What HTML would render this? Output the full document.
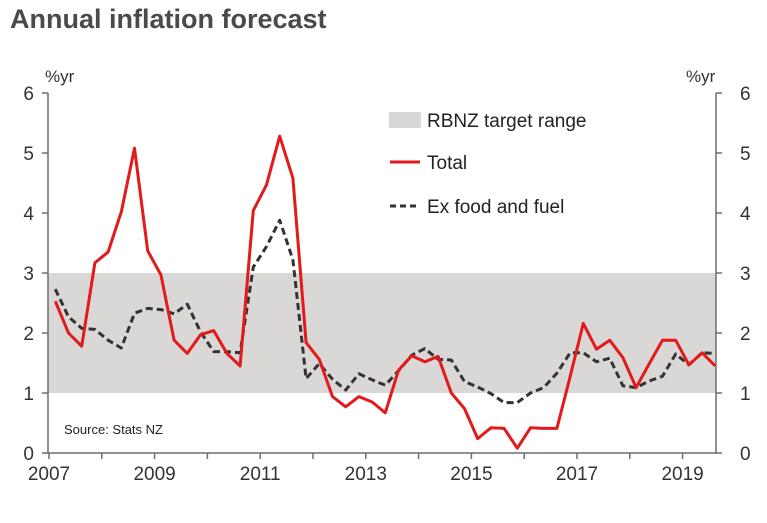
<!DOCTYPE html>
<html><head><meta charset="utf-8"><style>
body{margin:0;background:#fff;font-family:"Liberation Sans",Arial,sans-serif;}
svg text{font-family:"Liberation Sans",Arial,sans-serif;}
</style></head><body>
<svg id="c" width="767" height="518" viewBox="0 0 767 518">
<text x="10" y="28" font-size="27" font-weight="bold" fill="#4a4a4a">Annual inflation forecast</text>
<text x="45" y="82" font-size="17" fill="#333">%yr</text>
<text x="686" y="82" font-size="17" fill="#333">%yr</text>
<g id="band"></g>
<g id="axes"></g>
<g id="series"></g>
<text x="64" y="434" font-size="13" fill="#222">Source: Stats NZ</text>
<g>
<rect x="389" y="112" width="32" height="16" fill="#d9d8d7"/>
<text x="427" y="127" font-size="19" fill="#222">RBNZ target range</text>
<line x1="390" y1="162" x2="420" y2="162" stroke="#e3191b" stroke-width="3"/>
<text x="427" y="169" font-size="19" fill="#222">Total</text>
<line x1="390" y1="206" x2="420" y2="206" stroke="#333" stroke-width="3" stroke-dasharray="6,4"/>
<text x="427" y="213" font-size="19" fill="#222">Ex food and fuel</text>
</g>
</svg>
<script>
const startYear = 2007.12;
const total = [2.53,2.0,1.78,3.17,3.35,4.02,5.08,3.37,2.97,1.88,1.66,1.97,2.04,1.66,1.45,4.04,4.47,5.28,4.58,1.84,1.56,0.94,0.77,0.94,0.85,0.67,1.38,1.62,1.52,1.61,1.0,0.74,0.24,0.42,0.41,0.08,0.42,0.41,0.41,1.27,2.16,1.73,1.88,1.59,1.09,1.49,1.88,1.88,1.47,1.67,1.45];
const exFoodFuel = [2.73,2.27,2.08,2.06,1.88,1.75,2.33,2.41,2.39,2.32,2.48,2.02,1.69,1.69,1.67,3.1,3.44,3.88,3.22,1.24,1.49,1.23,1.05,1.32,1.22,1.13,1.37,1.63,1.74,1.56,1.55,1.19,1.1,0.99,0.84,0.84,1.0,1.09,1.33,1.67,1.67,1.52,1.58,1.12,1.09,1.2,1.28,1.65,1.47,1.67,1.66];
const yTicks = [0,1,2,3,4,5,6];
const xLabels = [2007,2009,2011,2013,2015,2017,2019];
const band = [1,3];
const NS="http://www.w3.org/2000/svg";
const L=48,R=716,T=93,B=453;
function xs(t){return 49+52.8*(t-2007);}
function ys(v){return B-(v/6)*(B-T);}
function mk(tag,attrs,parent){const e=document.createElementNS(NS,tag);for(const k in attrs)e.setAttribute(k,attrs[k]);parent.appendChild(e);return e;}
const gB=document.getElementById('band'),gA=document.getElementById('axes'),gS=document.getElementById('series');
let r=mk('rect',{x:L,y:ys(band[1]),width:R-L,height:ys(band[0])-ys(band[1]),fill:'#d9d8d7'},gB);


let a=mk('path',{d:`M${L},${T}V${B}H${R}V${T}`,stroke:'#6e6e6e','stroke-width':1.5,fill:'none'},gA);


yTicks.forEach(v=>{
 const y=ys(v);
 mk('line',{x1:L-6,x2:L,y1:y,y2:y,stroke:'#6e6e6e','stroke-width':1.5},gA);
 mk('line',{x1:R,x2:R+6,y1:y,y2:y,stroke:'#6e6e6e','stroke-width':1.5},gA);
 let t=mk('text',{x:L-14,y:y+7,'font-size':19,fill:'#333','text-anchor':'end'},gA);t.textContent=v;
 
 
 let t2=mk('text',{x:R+24,y:y+7,'font-size':19,fill:'#333','text-anchor':'start'},gA);t2.textContent=v;
 
 
});
for(let yr=2007;yr<=2019;yr++){mk('line',{x1:xs(yr),x2:xs(yr),y1:B,y2:B+6,stroke:'#6e6e6e','stroke-width':1.5},gA);}
xLabels.forEach(yr=>{let t=mk('text',{x:xs(yr),y:B+27,'font-size':19,fill:'#333','text-anchor':'middle'},gA);t.textContent=yr;
 
 });
function line(data,attrs,name){
 const d=data.map((v,i)=>(i?'L':'M')+xs(startYear+0.25*i).toFixed(1)+','+ys(v).toFixed(1)).join('');
 const p=mk('path',Object.assign({d,fill:'none','stroke-linejoin':'round'},attrs),gS);
 
 
}
line(exFoodFuel,{stroke:'#333','stroke-width':3,'stroke-dasharray':'7,4'},'ex-food-fuel-line');
line(total,{stroke:'#e3191b','stroke-width':3},'total-line');
</script>
</body></html>
